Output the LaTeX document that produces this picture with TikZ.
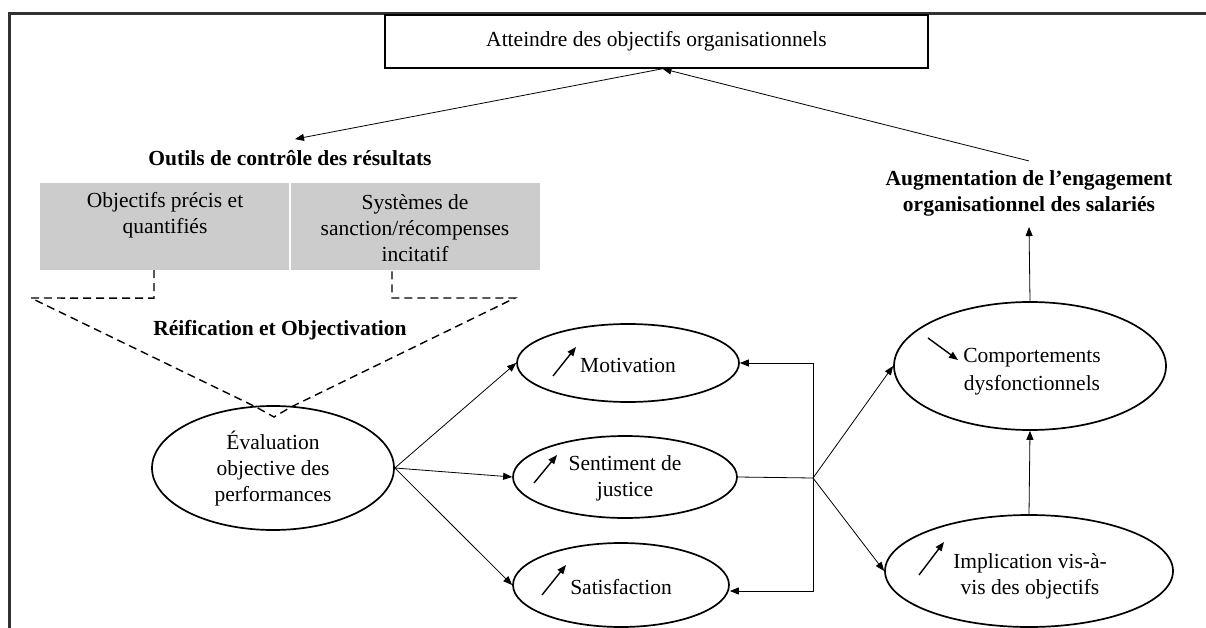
\documentclass[tikz,border=0pt]{standalone}
\usepackage{fontspec}
\setmainfont{Liberation Serif}
\usetikzlibrary{arrows.meta,shapes.geometric,calc}
\definecolor{greyfill}{RGB}{204,204,204}
\definecolor{framecol}{RGB}{50,50,50}
\begin{document}
\begin{tikzpicture}[x=1pt,y=-1pt,
  txt/.style={font=\fontsize{21.5}{26}\selectfont, align=center, inner sep=0pt},
  btxt/.style={font=\fontsize{21.5}{26}\selectfont\bfseries, align=center, inner sep=0pt},
  oval/.style={draw, ellipse, line width=1.7pt, inner sep=0pt},
  conn/.style={line width=0.8pt, -{Triangle[length=9pt,width=7pt]}},
  smallarr/.style={line width=1.4pt, -{Triangle[length=9pt,width=7pt]}},
  dashline/.style={line width=1.4pt, dash pattern=on 8pt off 5pt},
  greybox/.style={fill=greyfill, draw=none, minimum width=249pt, minimum height=87pt, inner sep=0pt}]
\useasboundingbox (0,0) rectangle (1206,628);
\fill[white] (0,0) rectangle (1206,628);
% frame
\draw[line width=2.5pt, framecol] (9.6,640) -- (9.6,13.5) -- (1215,13.5);
% top box
\node[draw, line width=1.5pt, minimum width=543pt, minimum height=53pt, inner sep=0pt,
      font=\fontsize{21.5}{26}\selectfont] (top) at (656.5,41.5) {Atteindre des objectifs organisationnels};
% results-control tools
\node[btxt] (outils) at (290,158) {Outils de contrôle des résultats};
\node[greybox] (g1) at (164.5,226.5) {};
\node[greybox] (g2) at (415.5,226.5) {};
\node[txt] (g1T) at (165,215) {Objectifs précis et\\quantifiés};
\node[txt] (g2T) at (415,228) {Systèmes de\\sanction/récompenses\\incitatif};
\node[btxt] (reif) at (280,330) {Réification et Objectivation};
% ellipses
\node[oval, minimum width=242pt, minimum height=124pt] (eval) at (273,468) {};
\node[txt] (evalT) at (273,469) {Évaluation\\objective des\\performances};
\node[oval, minimum width=222pt, minimum height=78pt] (mot) at (628,363) {};
\node[txt] (motT) at (628,365) {Motivation};
\node[oval, minimum width=224pt, minimum height=82pt] (sen) at (625,477) {};
\node[txt] (senT) at (625,478) {Sentiment de\\justice};
\node[oval, minimum width=216pt, minimum height=84pt] (sat) at (621,585) {};
\node[txt] (satT) at (621,587) {Satisfaction};
\node[oval, minimum width=272pt, minimum height=128pt] (com) at (1030,366) {};
\node[txt, font=\fontsize{21.5}{28}\selectfont] (comT) at (1032,372) {Comportements\\dysfonctionnels};
\node[oval, minimum width=288pt, minimum height=112pt] (imp) at (1029,571) {};
\node[txt] (impT) at (1030,576) {Implication vis-à-\\vis des objectifs};
\node[btxt] (aug) at (1029,193) {Augmentation de l’engagement\\organisationnel des salariés};
\coordinate (J) at (813,478);
% dashed funnel
\draw[dashline] ([xshift=-10.5pt]g1.south) -- ++(0,28) -- (31,298) -- (256,407) -- (274,417)
  -- (291,407) -- (515,298) -- (392,298) -- ([xshift=-23.5pt]g2.south);
% connectors
\draw[conn] ([xshift=6pt]top.south) -- ($(outils.north)+(5,-11)$);
\draw[conn] ($(aug.north)+(0,-9)$) -- ([xshift=6pt]top.south);
\draw[conn] (com.north) -- ($(aug.south)+(0,11)$);
\draw[conn] (imp.north) -- (com.south);
\draw[conn] (eval.east) -- (mot.west);
\draw[conn] (eval.east) -- (sen.west);
\draw[conn] (eval.east) -- (sat.west);
\draw[line width=0.8pt] (sen.east) -- (J);
\draw[conn] (J) |- (mot.east);
\draw[conn] (J) |- ([yshift=-6pt]sat.east);
\draw[conn] (J) -- (com.west);
\draw[conn] (J) -- (imp.west);
% small trend arrows
\draw[smallarr] ($(mot.center)+(-75,13)$) -- ++(23,-29);
\draw[smallarr] ($(sen.center)+(-91,6)$) -- ++(23,-28);
\draw[smallarr] ($(sat.center)+(-79,10)$) -- ++(24,-30);
\draw[smallarr] ($(com.center)+(-102,-28)$) -- ++(30,22);
\draw[smallarr] ($(imp.center)+(-110,4)$) -- ++(25,-33);
\end{tikzpicture}
\end{document}
